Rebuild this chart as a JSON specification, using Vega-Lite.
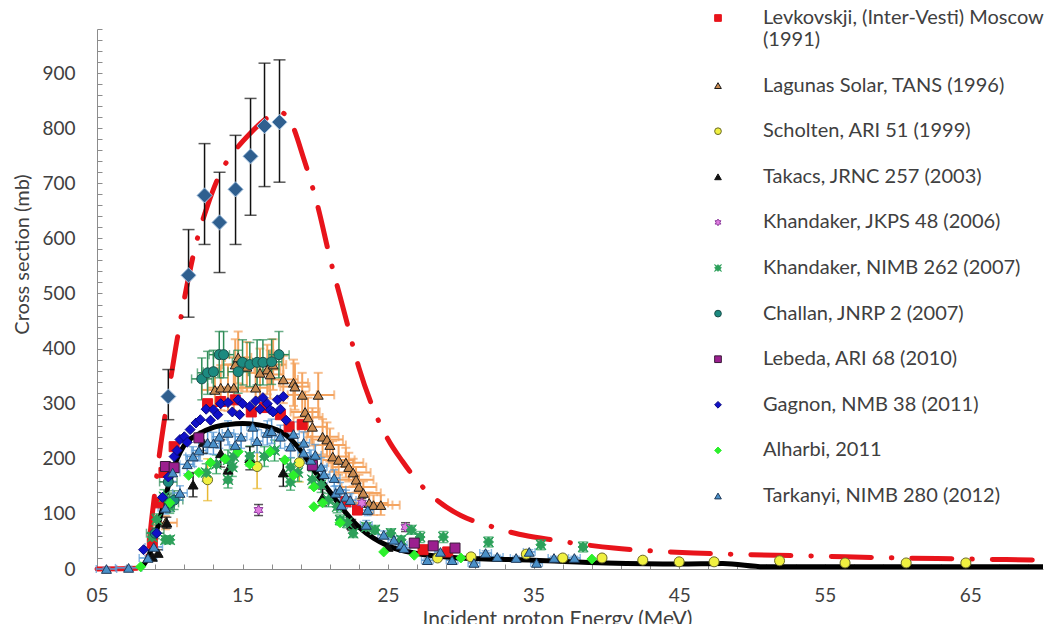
{
  "$schema": "https://vega.github.io/schema/vega-lite/v6.json",
  "width": 946,
  "height": 540,
  "autosize": {"type": "none"},
  "padding": {"left": 97, "top": 29, "right": 8, "bottom": 55},
  "background": "white",
  "config": {
    "view": {"stroke": null},
    "font": "Lato",
    "axis": {
      "domainColor": "#8c8c8c",
      "tickColor": "#8c8c8c",
      "labelColor": "#404040",
      "titleColor": "#404040",
      "labelFont": "Lato",
      "titleFont": "Lato",
      "labelFontSize": 19,
      "titleFontWeight": "normal",
      "grid": false,
      "labelOverlap": false,
      "labelFlush": false
    },
    "legend": {
      "labelFont": "Lato",
      "labelFontSize": 20,
      "labelColor": "#404040",
      "symbolStrokeWidth": 1
    }
  },
  "datasets": {
    "dashcurve": [
      {"e": 5.0, "v": 0}, {"e": 8.3, "v": 2}, {"e": 8.8, "v": 100}, {"e": 9.2, "v": 190},
      {"e": 9.8, "v": 300}, {"e": 10.4, "v": 400}, {"e": 11.0, "v": 490}, {"e": 11.8, "v": 590},
      {"e": 12.6, "v": 660}, {"e": 13.5, "v": 720}, {"e": 14.5, "v": 760}, {"e": 15.5, "v": 790},
      {"e": 16.5, "v": 815}, {"e": 17.5, "v": 830}, {"e": 18.3, "v": 812}, {"e": 19.2, "v": 745},
      {"e": 20.2, "v": 655}, {"e": 21.0, "v": 565}, {"e": 22.0, "v": 465}, {"e": 23.0, "v": 365},
      {"e": 24.0, "v": 290}, {"e": 25.0, "v": 235}, {"e": 26.0, "v": 195}, {"e": 27.0, "v": 160},
      {"e": 28.5, "v": 122}, {"e": 30.0, "v": 97}, {"e": 32.0, "v": 78}, {"e": 34.0, "v": 63},
      {"e": 36.0, "v": 54}, {"e": 38.0, "v": 46}, {"e": 40.5, "v": 38}, {"e": 43.0, "v": 33},
      {"e": 46.0, "v": 29}, {"e": 50.0, "v": 26}, {"e": 55.0, "v": 23}, {"e": 60.0, "v": 20},
      {"e": 65.0, "v": 18}, {"e": 70.0, "v": 16}
    ],
    "blackcurve": [
      {"e": 7.9, "v": 0}, {"e": 8.5, "v": 20}, {"e": 9.0, "v": 60}, {"e": 9.5, "v": 110},
      {"e": 10.0, "v": 160}, {"e": 10.5, "v": 200}, {"e": 11.0, "v": 225}, {"e": 12.0, "v": 245},
      {"e": 13.0, "v": 257}, {"e": 14.0, "v": 262}, {"e": 15.0, "v": 264}, {"e": 16.0, "v": 262},
      {"e": 17.0, "v": 256}, {"e": 18.0, "v": 243}, {"e": 19.0, "v": 215}, {"e": 20.0, "v": 176},
      {"e": 21.0, "v": 140}, {"e": 22.0, "v": 105}, {"e": 23.0, "v": 76}, {"e": 24.0, "v": 56},
      {"e": 25.0, "v": 42}, {"e": 27.0, "v": 28}, {"e": 30.0, "v": 20}, {"e": 35.0, "v": 16},
      {"e": 40.0, "v": 11}, {"e": 45.0, "v": 9}, {"e": 48.0, "v": 10}, {"e": 51.0, "v": 4},
      {"e": 55.0, "v": 4}, {"e": 60.0, "v": 4}, {"e": 65.0, "v": 4}, {"e": 70.0, "v": 4}
    ],
    "bigdia": [
      {"e": 9.9, "v": 313, "lo": 271, "hi": 362},
      {"e": 11.29, "v": 533, "lo": 457, "hi": 616},
      {"e": 12.39, "v": 678, "lo": 589, "hi": 772},
      {"e": 13.42, "v": 629, "lo": 538, "hi": 720},
      {"e": 14.52, "v": 689, "lo": 589, "hi": 787},
      {"e": 15.55, "v": 749, "lo": 642, "hi": 854},
      {"e": 16.51, "v": 804, "lo": 694, "hi": 918},
      {"e": 17.54, "v": 811, "lo": 702, "hi": 924}
    ],
    "pts": [
      {"s": "Lev", "e": 8.8, "v": 47}, {"s": "Lev", "e": 9.2, "v": 120}, {"s": "Lev", "e": 9.6, "v": 175},
      {"s": "Lev", "e": 10.3, "v": 222}, {"s": "Lev", "e": 12.6, "v": 300}, {"s": "Lev", "e": 13.5, "v": 304},
      {"s": "Lev", "e": 14.5, "v": 307}, {"s": "Lev", "e": 15.6, "v": 285}, {"s": "Lev", "e": 16.5, "v": 293},
      {"s": "Lev", "e": 17.6, "v": 280}, {"s": "Lev", "e": 18.2, "v": 258}, {"s": "Lev", "e": 19.1, "v": 262},
      {"s": "Lev", "e": 22.1, "v": 122}, {"s": "Lev", "e": 22.9, "v": 107}, {"s": "Lev", "e": 27.4, "v": 35},
      {"s": "Lev", "e": 29.1, "v": 31},

      {"s": "Lag", "e": 9.7, "v": 84, "ev": 12, "ee": 0.8},
      {"s": "Lag", "e": 13.1, "v": 325, "ev": 40, "ee": 0.9}, {"s": "Lag", "e": 13.5, "v": 329, "ev": 41, "ee": 0.9},
      {"s": "Lag", "e": 14.0, "v": 329, "ev": 42, "ee": 0.9}, {"s": "Lag", "e": 14.4, "v": 329, "ev": 42, "ee": 0.9},
      {"s": "Lag", "e": 14.5, "v": 371, "ev": 46, "ee": 0.9}, {"s": "Lag", "e": 14.7, "v": 384, "ev": 47, "ee": 0.9},
      {"s": "Lag", "e": 15.3, "v": 367, "ev": 45, "ee": 0.9}, {"s": "Lag", "e": 15.9, "v": 329, "ev": 42, "ee": 0.9},
      {"s": "Lag", "e": 16.2, "v": 356, "ev": 44, "ee": 0.9}, {"s": "Lag", "e": 16.7, "v": 362, "ev": 45, "ee": 0.9},
      {"s": "Lag", "e": 16.9, "v": 353, "ev": 44, "ee": 0.9}, {"s": "Lag", "e": 17.1, "v": 371, "ev": 46, "ee": 0.9},
      {"s": "Lag", "e": 17.8, "v": 344, "ev": 43, "ee": 1.0}, {"s": "Lag", "e": 18.5, "v": 338, "ev": 42, "ee": 1.0},
      {"s": "Lag", "e": 18.6, "v": 331, "ev": 42, "ee": 1.0}, {"s": "Lag", "e": 19.1, "v": 316, "ev": 40, "ee": 1.0},
      {"s": "Lag", "e": 20.2, "v": 316, "ev": 40, "ee": 1.1}, {"s": "Lag", "e": 19.3, "v": 285, "ev": 37, "ee": 1.0},
      {"s": "Lag", "e": 19.5, "v": 275, "ev": 36, "ee": 1.0}, {"s": "Lag", "e": 19.8, "v": 258, "ev": 34, "ee": 1.0},
      {"s": "Lag", "e": 20.5, "v": 240, "ev": 32, "ee": 1.1}, {"s": "Lag", "e": 20.8, "v": 235, "ev": 31, "ee": 1.1},
      {"s": "Lag", "e": 21.0, "v": 225, "ev": 30, "ee": 1.1}, {"s": "Lag", "e": 21.2, "v": 204, "ev": 28, "ee": 1.1},
      {"s": "Lag", "e": 21.6, "v": 198, "ev": 27, "ee": 1.1}, {"s": "Lag", "e": 22.1, "v": 193, "ev": 27, "ee": 1.2},
      {"s": "Lag", "e": 22.3, "v": 185, "ev": 26, "ee": 1.2}, {"s": "Lag", "e": 22.6, "v": 175, "ev": 25, "ee": 1.2},
      {"s": "Lag", "e": 22.8, "v": 162, "ev": 23, "ee": 1.2}, {"s": "Lag", "e": 23.0, "v": 149, "ev": 22, "ee": 1.2},
      {"s": "Lag", "e": 23.3, "v": 138, "ev": 21, "ee": 1.2}, {"s": "Lag", "e": 23.7, "v": 120, "ev": 19, "ee": 1.3},
      {"s": "Lag", "e": 24.0, "v": 116, "ev": 18, "ee": 1.3}, {"s": "Lag", "e": 24.5, "v": 116, "ev": 18, "ee": 1.3},

      {"s": "Sch", "e": 12.6, "v": 162, "ev": 38}, {"s": "Sch", "e": 16.0, "v": 186, "ev": 40},
      {"s": "Sch", "e": 18.9, "v": 193, "ev": 35}, {"s": "Sch", "e": 28.4, "v": 20, "ev": 5},
      {"s": "Sch", "e": 30.7, "v": 22, "ev": 5}, {"s": "Sch", "e": 34.5, "v": 27, "ev": 5},
      {"s": "Sch", "e": 37.0, "v": 20, "ev": 5}, {"s": "Sch", "e": 39.7, "v": 20, "ev": 5},
      {"s": "Sch", "e": 42.5, "v": 16, "ev": 5}, {"s": "Sch", "e": 45.0, "v": 13, "ev": 5},
      {"s": "Sch", "e": 47.4, "v": 13, "ev": 5}, {"s": "Sch", "e": 51.9, "v": 15, "ev": 5},
      {"s": "Sch", "e": 56.4, "v": 11, "ev": 5}, {"s": "Sch", "e": 60.6, "v": 11, "ev": 5},
      {"s": "Sch", "e": 64.7, "v": 11, "ev": 5},

      {"s": "Tak", "e": 8.8, "v": 22, "ev": 5}, {"s": "Tak", "e": 9.2, "v": 29, "ev": 6},
      {"s": "Tak", "e": 9.8, "v": 84, "ev": 10}, {"s": "Tak", "e": 11.6, "v": 153, "ev": 22},
      {"s": "Tak", "e": 12.3, "v": 230, "ev": 20}, {"s": "Tak", "e": 13.5, "v": 210, "ev": 25},
      {"s": "Tak", "e": 14.0, "v": 180, "ev": 22}, {"s": "Tak", "e": 15.5, "v": 201, "ev": 21},
      {"s": "Tak", "e": 17.8, "v": 175, "ev": 25}, {"s": "Tak", "e": 20.5, "v": 130, "ev": 15},
      {"s": "Tak", "e": 22.5, "v": 80, "ev": 10}, {"s": "Tak", "e": 25.0, "v": 40, "ev": 6},

      {"s": "Kj", "e": 16.1, "v": 107, "ev": 10}, {"s": "Kj", "e": 23.2, "v": 120, "ev": 8},
      {"s": "Kj", "e": 26.2, "v": 76, "ev": 8},

      {"s": "Kn", "e": 8.8, "v": 58, "ev": 8}, {"s": "Kn", "e": 9.1, "v": 90, "ev": 10},
      {"s": "Kn", "e": 9.6, "v": 131, "ev": 13}, {"s": "Kn", "e": 9.7, "v": 53, "ev": 7},
      {"s": "Kn", "e": 10.0, "v": 113, "ev": 12}, {"s": "Kn", "e": 10.0, "v": 53, "ev": 7},
      {"s": "Kn", "e": 12.5, "v": 175, "ev": 16}, {"s": "Kn", "e": 13.2, "v": 190, "ev": 17},
      {"s": "Kn", "e": 14.0, "v": 198, "ev": 18}, {"s": "Kn", "e": 14.4, "v": 204, "ev": 18},
      {"s": "Kn", "e": 14.0, "v": 162, "ev": 15}, {"s": "Kn", "e": 14.3, "v": 185, "ev": 17},
      {"s": "Kn", "e": 15.5, "v": 205, "ev": 18}, {"s": "Kn", "e": 16.5, "v": 204, "ev": 18},
      {"s": "Kn", "e": 17.2, "v": 215, "ev": 19}, {"s": "Kn", "e": 18.3, "v": 185, "ev": 17},
      {"s": "Kn", "e": 18.3, "v": 158, "ev": 15}, {"s": "Kn", "e": 18.8, "v": 175, "ev": 16},
      {"s": "Kn", "e": 19.8, "v": 162, "ev": 15}, {"s": "Kn", "e": 20.4, "v": 153, "ev": 14},
      {"s": "Kn", "e": 20.9, "v": 125, "ev": 12}, {"s": "Kn", "e": 21.5, "v": 113, "ev": 11},
      {"s": "Kn", "e": 21.7, "v": 89, "ev": 9}, {"s": "Kn", "e": 22.2, "v": 84, "ev": 9},
      {"s": "Kn", "e": 22.6, "v": 65, "ev": 8}, {"s": "Kn", "e": 23.5, "v": 76, "ev": 8},
      {"s": "Kn", "e": 24.1, "v": 71, "ev": 8}, {"s": "Kn", "e": 25.2, "v": 65, "ev": 8},
      {"s": "Kn", "e": 25.9, "v": 53, "ev": 7}, {"s": "Kn", "e": 26.6, "v": 71, "ev": 8},
      {"s": "Kn", "e": 27.2, "v": 58, "ev": 10}, {"s": "Kn", "e": 28.8, "v": 58, "ev": 10},
      {"s": "Kn", "e": 31.9, "v": 49, "ev": 9}, {"s": "Kn", "e": 35.5, "v": 44, "ev": 9},
      {"s": "Kn", "e": 38.4, "v": 40, "ev": 9},

      {"s": "Cha", "e": 9.0, "v": 65, "ev": 10, "ee": 0.6}, {"s": "Cha", "e": 9.9, "v": 158, "ev": 20, "ee": 0.6},
      {"s": "Cha", "e": 10.0, "v": 120, "ev": 16, "ee": 0.6}, {"s": "Cha", "e": 10.3, "v": 125, "ev": 17, "ee": 0.6},
      {"s": "Cha", "e": 12.2, "v": 345, "ev": 38, "ee": 0.7}, {"s": "Cha", "e": 12.6, "v": 356, "ev": 39, "ee": 0.7},
      {"s": "Cha", "e": 13.0, "v": 358, "ev": 39, "ee": 0.7}, {"s": "Cha", "e": 13.4, "v": 389, "ev": 42, "ee": 0.7},
      {"s": "Cha", "e": 13.7, "v": 389, "ev": 42, "ee": 0.7}, {"s": "Cha", "e": 14.7, "v": 358, "ev": 39, "ee": 0.7},
      {"s": "Cha", "e": 15.0, "v": 375, "ev": 41, "ee": 0.7}, {"s": "Cha", "e": 15.5, "v": 371, "ev": 40, "ee": 0.7},
      {"s": "Cha", "e": 16.0, "v": 375, "ev": 41, "ee": 0.7}, {"s": "Cha", "e": 16.4, "v": 375, "ev": 41, "ee": 0.7},
      {"s": "Cha", "e": 17.0, "v": 376, "ev": 41, "ee": 0.7}, {"s": "Cha", "e": 17.5, "v": 389, "ev": 42, "ee": 0.7},

      {"s": "Leb", "e": 9.7, "v": 186}, {"s": "Leb", "e": 10.3, "v": 184}, {"s": "Leb", "e": 12.0, "v": 238},
      {"s": "Leb", "e": 19.8, "v": 188}, {"s": "Leb", "e": 26.8, "v": 47}, {"s": "Leb", "e": 28.1, "v": 42},
      {"s": "Leb", "e": 29.6, "v": 38},

      {"s": "Gag", "e": 8.2, "v": 35}, {"s": "Gag", "e": 9.1, "v": 65}, {"s": "Gag", "e": 9.5, "v": 130},
      {"s": "Gag", "e": 9.9, "v": 167}, {"s": "Gag", "e": 10.3, "v": 204}, {"s": "Gag", "e": 10.5, "v": 215},
      {"s": "Gag", "e": 10.7, "v": 235}, {"s": "Gag", "e": 11.0, "v": 240}, {"s": "Gag", "e": 11.2, "v": 230},
      {"s": "Gag", "e": 11.4, "v": 253}, {"s": "Gag", "e": 11.8, "v": 265}, {"s": "Gag", "e": 12.1, "v": 271},
      {"s": "Gag", "e": 12.5, "v": 290}, {"s": "Gag", "e": 12.8, "v": 270}, {"s": "Gag", "e": 13.0, "v": 289},
      {"s": "Gag", "e": 13.3, "v": 280}, {"s": "Gag", "e": 13.5, "v": 300}, {"s": "Gag", "e": 14.0, "v": 302},
      {"s": "Gag", "e": 14.3, "v": 285}, {"s": "Gag", "e": 14.7, "v": 307}, {"s": "Gag", "e": 14.8, "v": 280},
      {"s": "Gag", "e": 15.0, "v": 300}, {"s": "Gag", "e": 15.5, "v": 295}, {"s": "Gag", "e": 15.9, "v": 305},
      {"s": "Gag", "e": 16.2, "v": 290}, {"s": "Gag", "e": 16.4, "v": 311}, {"s": "Gag", "e": 16.7, "v": 300},
      {"s": "Gag", "e": 16.9, "v": 289}, {"s": "Gag", "e": 17.1, "v": 285}, {"s": "Gag", "e": 17.4, "v": 307},
      {"s": "Gag", "e": 17.6, "v": 290}, {"s": "Gag", "e": 17.8, "v": 313}, {"s": "Gag", "e": 18.0, "v": 270},

      {"s": "Alh", "e": 8.0, "v": 4}, {"s": "Alh", "e": 10.0, "v": 120}, {"s": "Alh", "e": 11.3, "v": 170},
      {"s": "Alh", "e": 12.0, "v": 175}, {"s": "Alh", "e": 12.8, "v": 193}, {"s": "Alh", "e": 13.8, "v": 200},
      {"s": "Alh", "e": 14.7, "v": 213}, {"s": "Alh", "e": 15.5, "v": 190}, {"s": "Alh", "e": 16.9, "v": 213},
      {"s": "Alh", "e": 17.9, "v": 198}, {"s": "Alh", "e": 18.5, "v": 170}, {"s": "Alh", "e": 19.9, "v": 149},
      {"s": "Alh", "e": 19.9, "v": 113}, {"s": "Alh", "e": 20.5, "v": 120}, {"s": "Alh", "e": 21.7, "v": 84},
      {"s": "Alh", "e": 24.7, "v": 31}, {"s": "Alh", "e": 26.8, "v": 25}, {"s": "Alh", "e": 30.0, "v": 20},
      {"s": "Alh", "e": 39.0, "v": 18},

      {"s": "Tar", "e": 5.65, "v": 0, "ev": 3, "ee": 0.7}, {"s": "Tar", "e": 7.17, "v": 2, "ev": 3, "ee": 0.9},
      {"s": "Tar", "e": 8.5, "v": 20, "ev": 4, "ee": 0.6}, {"s": "Tar", "e": 8.9, "v": 40, "ev": 6, "ee": 0.6},
      {"s": "Tar", "e": 9.7, "v": 111, "ev": 11, "ee": 0.5}, {"s": "Tar", "e": 10.2, "v": 175, "ev": 16, "ee": 0.5},
      {"s": "Tar", "e": 10.7, "v": 138, "ev": 13, "ee": 0.5}, {"s": "Tar", "e": 11.2, "v": 190, "ev": 17, "ee": 0.5},
      {"s": "Tar", "e": 11.6, "v": 204, "ev": 18, "ee": 0.5}, {"s": "Tar", "e": 12.0, "v": 215, "ev": 19, "ee": 0.5},
      {"s": "Tar", "e": 12.6, "v": 229, "ev": 20, "ee": 0.5}, {"s": "Tar", "e": 13.0, "v": 228, "ev": 20, "ee": 0.5},
      {"s": "Tar", "e": 13.4, "v": 240, "ev": 21, "ee": 0.5}, {"s": "Tar", "e": 14.0, "v": 247, "ev": 22, "ee": 0.4},
      {"s": "Tar", "e": 14.5, "v": 225, "ev": 20, "ee": 0.4}, {"s": "Tar", "e": 14.9, "v": 240, "ev": 21, "ee": 0.4},
      {"s": "Tar", "e": 15.7, "v": 258, "ev": 23, "ee": 0.4}, {"s": "Tar", "e": 16.0, "v": 232, "ev": 21, "ee": 0.4},
      {"s": "Tar", "e": 16.7, "v": 247, "ev": 22, "ee": 0.4}, {"s": "Tar", "e": 17.0, "v": 250, "ev": 22, "ee": 0.4},
      {"s": "Tar", "e": 17.6, "v": 240, "ev": 21, "ee": 0.4}, {"s": "Tar", "e": 18.3, "v": 222, "ev": 20, "ee": 0.4},
      {"s": "Tar", "e": 18.5, "v": 245, "ev": 22, "ee": 0.4}, {"s": "Tar", "e": 19.2, "v": 211, "ev": 19, "ee": 0.4},
      {"s": "Tar", "e": 19.2, "v": 229, "ev": 20, "ee": 0.4}, {"s": "Tar", "e": 19.7, "v": 198, "ev": 18, "ee": 0.4},
      {"s": "Tar", "e": 20.0, "v": 207, "ev": 19, "ee": 0.4}, {"s": "Tar", "e": 20.4, "v": 185, "ev": 17, "ee": 0.4},
      {"s": "Tar", "e": 20.6, "v": 172, "ev": 16, "ee": 0.4}, {"s": "Tar", "e": 21.3, "v": 165, "ev": 15, "ee": 0.4},
      {"s": "Tar", "e": 21.4, "v": 138, "ev": 13, "ee": 0.4}, {"s": "Tar", "e": 21.7, "v": 144, "ev": 13, "ee": 0.4},
      {"s": "Tar", "e": 21.8, "v": 116, "ev": 11, "ee": 0.4}, {"s": "Tar", "e": 22.1, "v": 131, "ev": 12, "ee": 0.4},
      {"s": "Tar", "e": 22.4, "v": 125, "ev": 12, "ee": 0.4}, {"s": "Tar", "e": 23.5, "v": 80, "ev": 8, "ee": 0.4},
      {"s": "Tar", "e": 23.6, "v": 107, "ev": 10, "ee": 0.4}, {"s": "Tar", "e": 24.7, "v": 62, "ev": 7, "ee": 0.4},
      {"s": "Tar", "e": 25.4, "v": 53, "ev": 6, "ee": 0.4}, {"s": "Tar", "e": 25.9, "v": 44, "ev": 5, "ee": 0.4},
      {"s": "Tar", "e": 26.1, "v": 38, "ev": 5, "ee": 0.4}, {"s": "Tar", "e": 27.7, "v": 16, "ev": 3, "ee": 0.4},
      {"s": "Tar", "e": 28.6, "v": 31, "ev": 4, "ee": 0.4}, {"s": "Tar", "e": 29.4, "v": 16, "ev": 3, "ee": 0.4},
      {"s": "Tar", "e": 30.9, "v": 11, "ev": 3, "ee": 0.4}, {"s": "Tar", "e": 31.7, "v": 29, "ev": 4, "ee": 0.4},
      {"s": "Tar", "e": 32.5, "v": 22, "ev": 3, "ee": 0.4}, {"s": "Tar", "e": 33.8, "v": 20, "ev": 3, "ee": 0.4},
      {"s": "Tar", "e": 34.7, "v": 31, "ev": 4, "ee": 0.4}, {"s": "Tar", "e": 35.2, "v": 11, "ev": 3, "ee": 0.4},
      {"s": "Tar", "e": 36.4, "v": 20, "ev": 3, "ee": 0.4}, {"s": "Tar", "e": 37.8, "v": 20, "ev": 3, "ee": 0.4}
    ]
  },
  "encoding": {
    "x": {
      "field": "e", "type": "quantitative",
      "scale": {"domain": [5, 70], "nice": false, "zero": false},
      "axis": {
        "title": "Incident proton Energy (MeV)",
        "values": [5, 7, 9, 11, 13, 15, 17, 19, 21, 23, 25, 27, 29, 31, 33, 35, 37, 39, 41, 43, 45, 47, 49, 51, 53, 55, 57, 59, 61, 63, 65, 67, 69],
        "labelExpr": "(datum.value - 5) % 10 == 0 ? (datum.value < 10 ? '0' + datum.value : '' + datum.value) : ''",
        "tickSize": -5,
        "labelPadding": 22,
        "titleFontSize": 21,
        "titleX": 460,
        "titleY": 39,
        "titleBaseline": "top"
      }
    },
    "y": {
      "field": "v", "type": "quantitative",
      "scale": {"domain": [0, 980], "nice": false},
      "axis": {
        "title": "Cross section (mb)",
        "values": [0, 20, 40, 60, 80, 100, 120, 140, 160, 180, 200, 220, 240, 260, 280, 300, 320, 340, 360, 380, 400, 420, 440, 460, 480, 500, 520, 540, 560, 580, 600, 620, 640, 660, 680, 700, 720, 740, 760, 780, 800, 820, 840, 860, 880, 900, 920, 940, 960, 980],
        "labelExpr": "datum.value % 100 == 0 && datum.value <= 900 ? '' + datum.value : ''",
        "tickSize": -5,
        "labelPadding": 27,
        "titleFontSize": 20,
        "titleX": -75,
        "titleY": 225,
        "titleBaseline": "middle"
      }
    }
  },
  "layer": [
    {
      "data": {"name": "dashcurve"},
      "mark": {"type": "line", "color": "#e8141b", "strokeWidth": 5, "strokeCap": "round", "strokeDash": [40, 20, 0.5, 20], "interpolate": "monotone"},
      "encoding": {}
    },
    {
      "data": {"name": "pts"},
      "transform": [{"filter": "datum.s == 'Lag'"}],
      "mark": {"type": "errorbar", "ticks": {"size": 9}, "color": "#f4a460", "thickness": 2},
      "encoding": {"yError": {"field": "ev"}}
    },
    {
      "data": {"name": "pts"},
      "transform": [{"filter": "datum.s == 'Lag'"}],
      "mark": {"type": "errorbar", "ticks": {"size": 9}, "color": "#f4a460", "thickness": 2},
      "encoding": {"xError": {"field": "ee"}}
    },
    {
      "data": {"name": "pts"},
      "transform": [{"filter": "datum.s == 'Cha'"}],
      "mark": {"type": "errorbar", "ticks": {"size": 9}, "color": "#2e8b57", "thickness": 1.5},
      "encoding": {"yError": {"field": "ev"}}
    },
    {
      "data": {"name": "pts"},
      "transform": [{"filter": "datum.s == 'Cha'"}],
      "mark": {"type": "errorbar", "ticks": {"size": 9}, "color": "#2e8b57", "thickness": 1.5},
      "encoding": {"xError": {"field": "ee"}}
    },
    {
      "data": {"name": "pts"},
      "transform": [{"filter": "datum.s == 'Sch'"}],
      "mark": {"type": "errorbar", "ticks": {"size": 9}, "color": "#e8b830", "thickness": 1.5},
      "encoding": {"yError": {"field": "ev"}}
    },
    {
      "data": {"name": "pts"},
      "transform": [{"filter": "datum.s == 'Kn'"}],
      "mark": {"type": "errorbar", "ticks": {"size": 9}, "color": "#2ca05a", "thickness": 1.5},
      "encoding": {"yError": {"field": "ev"}}
    },
    {
      "data": {"name": "pts"},
      "transform": [{"filter": "datum.s == 'Tar'"}],
      "mark": {"type": "errorbar", "ticks": {"size": 8}, "color": "#5b9bd5", "thickness": 1.5},
      "encoding": {"yError": {"field": "ev"}}
    },
    {
      "data": {"name": "pts"},
      "transform": [{"filter": "datum.s == 'Tar'"}],
      "mark": {"type": "errorbar", "ticks": {"size": 8}, "color": "#5b9bd5", "thickness": 1.5},
      "encoding": {"xError": {"field": "ee"}}
    },
    {
      "data": {"name": "pts"},
      "transform": [{"filter": "datum.s == 'Tak' || datum.s == 'Kj'"}],
      "mark": {"type": "errorbar", "ticks": {"size": 9}, "color": "#111111", "thickness": 1.5},
      "encoding": {"yError": {"field": "ev"}}
    },
    {
      "data": {"name": "blackcurve"},
      "mark": {"type": "line", "color": "#000000", "strokeWidth": 5, "interpolate": "monotone"},
      "encoding": {}
    },
    {
      "data": {"name": "pts"},
      "mark": {"type": "point", "filled": true, "size": 100, "strokeWidth": 1, "opacity": 1},
      "encoding": {
        "fill": {
          "field": "s", "type": "nominal",
          "scale": {
            "domain": ["Lev", "Lag", "Sch", "Tak", "Kj", "Kn", "Cha", "Leb", "Gag", "Alh", "Tar"],
            "range": ["#e8141b", "#c98a50", "#f0f040", "#111111", "#e07be0", "#2ca05a", "#1c8a80", "#9b1f8f", "#1010c8", "#2cf02c", "#4a90c8"]
          },
          "legend": {
            "title": null,
            "orient": "none",
            "legendX": 611,
            "legendY": -21,
            "direction": "vertical",
            "padding": 0,
            "symbolSize": 45,
            "labelOffset": 35,
            "rowPadding": 25.6,
            "labelLimit": 400,
            "labelExpr": "datum.label == 'Lev' ? ['Levkovskji, (Inter-Vesti) Moscow', '(1991)'] : {'Lag': 'Lagunas Solar, TANS (1996)', 'Sch': 'Scholten, ARI 51 (1999)', 'Tak': 'Takacs, JRNC 257 (2003)', 'Kj': 'Khandaker, JKPS 48 (2006)', 'Kn': 'Khandaker, NIMB 262 (2007)', 'Cha': 'Challan, JNRP 2 (2007)', 'Leb': 'Lebeda, ARI 68 (2010)', 'Gag': 'Gagnon, NMB 38 (2011)', 'Alh': 'Alharbi, 2011', 'Tar': 'Tarkanyi, NIMB 280 (2012)'}[datum.label]"
          }
        },
        "stroke": {
          "field": "s", "type": "nominal",
          "scale": {
            "domain": ["Lev", "Lag", "Sch", "Tak", "Kj", "Kn", "Cha", "Leb", "Gag", "Alh", "Tar"],
            "range": ["#e8141b", "#1a1a1a", "#6b6b2a", "#111111", "#8e3c9e", "#2ca05a", "#1b4f4a", "#3a1a3a", "#0a0a80", "#2cf02c", "#1f3a5a"]
          }
        },
        "shape": {
          "field": "s", "type": "nominal",
          "scale": {
            "domain": ["Lev", "Lag", "Sch", "Tak", "Kj", "Kn", "Cha", "Leb", "Gag", "Alh", "Tar"],
            "range": [
              "square",
              "triangle-up",
              "circle",
              "triangle-up",
              "M0,-1L0.29,-0.5L0.87,-0.5L0.58,0L0.87,0.5L0.29,0.5L0,1L-0.29,0.5L-0.87,0.5L-0.58,0L-0.87,-0.5L-0.29,-0.5Z",
              "M-1,-1L-0.4,-0.6L0,-1L0.4,-0.6L1,-1L0.6,-0.4L1,0L0.6,0.4L1,1L0.4,0.6L0,1L-0.4,0.6L-1,1L-0.6,0.4L-1,0L-0.6,-0.4Z",
              "circle",
              "square",
              "diamond",
              "diamond",
              "triangle-up"
            ]
          }
        }
      }
    },
    {
      "data": {"name": "bigdia"},
      "mark": {"type": "errorbar", "ticks": {"size": 12}, "color": "#111111", "thickness": 1.5},
      "encoding": {"y": {"field": "lo", "type": "quantitative"}, "y2": {"field": "hi"}}
    },
    {
      "data": {"name": "bigdia"},
      "mark": {"type": "point", "shape": "diamond", "filled": true, "size": 230, "fill": "#2f5f8f", "stroke": "#a8c4e0", "strokeWidth": 1, "opacity": 1},
      "encoding": {}
    }
  ]
}
